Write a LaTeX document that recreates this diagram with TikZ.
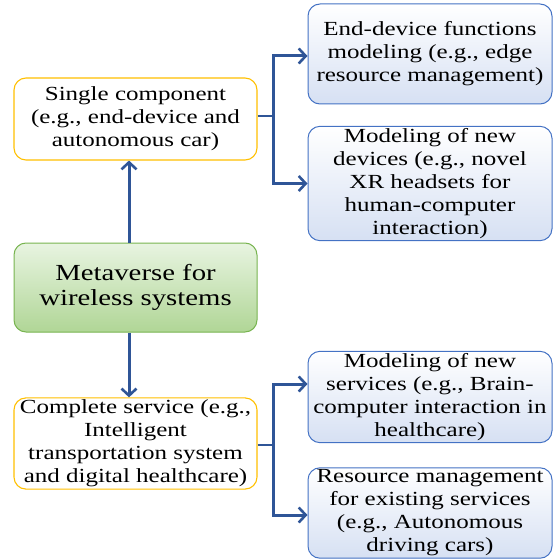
\documentclass[tikz,border=0pt]{standalone}
\usepackage{fontspec}
\setmainfont[FakeStretch=1.25]{Liberation Serif}
\usepackage{tikz}
\usetikzlibrary{arrows.meta}
\definecolor{arrowblue}{RGB}{47,85,151}
\definecolor{boxblue}{RGB}{68,114,196}
\definecolor{boxgold}{RGB}{255,192,0}
\definecolor{boxgreen}{RGB}{120,180,80}

\begin{document}
\begin{tikzpicture}[x=1pt, y=1pt,
	basebox/.style={rounded corners=12pt, align=center, inner sep=2pt, font=\fontsize{20}{23}\selectfont},
	leftbox/.style={basebox, draw=boxgold, line width=1.1pt, fill=white, minimum width=243pt},
	rightbox/.style={basebox, draw=boxblue, line width=1pt, top color=white, bottom color={rgb,255:red,214;green,224;blue,243}, minimum width=244pt},
	mainbox/.style={basebox, draw=boxgreen, line width=1pt, top color={rgb,255:red,232;green,244;blue,225}, bottom color={rgb,255:red,176;green,214;blue,150}, minimum width=243pt, minimum height=89pt, font=\fontsize{23}{25.5}\selectfont},
	arr/.style={draw=arrowblue, line width=3pt, -{Straight Barb[length=7pt, width=15pt, line width=2.6pt]}}]
	\useasboundingbox (0,0) rectangle (554,-559);

	% Draw boxes
	%Left column
	\node[mainbox] (meta) at (135.5,-287.5) {Metaverse for\\wireless systems};
	\node[leftbox, minimum height=82pt] (single) at (135.5,-119) {Single component\\(e.g., end-device and\\autonomous car)};
	\node[leftbox, minimum height=89pt] (complete) at (135.5,-443.5) {Complete service (e.g.,\\Intelligent\\transportation system\\and digital healthcare)};
	%Right column
	\node[rightbox, minimum height=100pt] (endfun) at (430,-54) {End-device functions\\modeling (e.g., edge\\resource management)};
	\node[rightbox, minimum height=113pt] (newdev) at (430,-183.5) {Modeling of new\\devices (e.g., novel\\XR headsets for\\human-computer\\interaction)};
	\node[rightbox, minimum height=90pt] (newserv) at (430,-397) {Modeling of new\\services (e.g., Brain-\\computer interaction in\\healthcare)};
	\node[rightbox, minimum height=88pt] (resman) at (430,-513) {Resource management\\for existing services\\(e.g., Autonomous\\driving cars)};

	% Vertical arrows
	\draw[arr] ([xshift=-6.5pt]meta.north) -- ([xshift=-6.5pt]single.south);
	\draw[arr] ([xshift=-6.5pt]meta.south) -- ([xshift=-6.5pt]complete.north);

	% Branches to the right
	\draw[draw=arrowblue, line width=2pt] ([yshift=3pt]single.east) -- ++(16,0) coordinate (jtop);
	\draw[arr] (jtop) |- ([yshift=-2pt]endfun.west);
	\draw[arr] (jtop) |- (newdev.west);
	\draw[draw=arrowblue, line width=2pt] ([yshift=-1.5pt]complete.east) -- ++(16,0) coordinate (jbot);
	\draw[arr] (jbot) |- ([yshift=13pt]newserv.west);
	\draw[arr] (jbot) |- ([yshift=-2pt]resman.west);
\end{tikzpicture}
\end{document}
